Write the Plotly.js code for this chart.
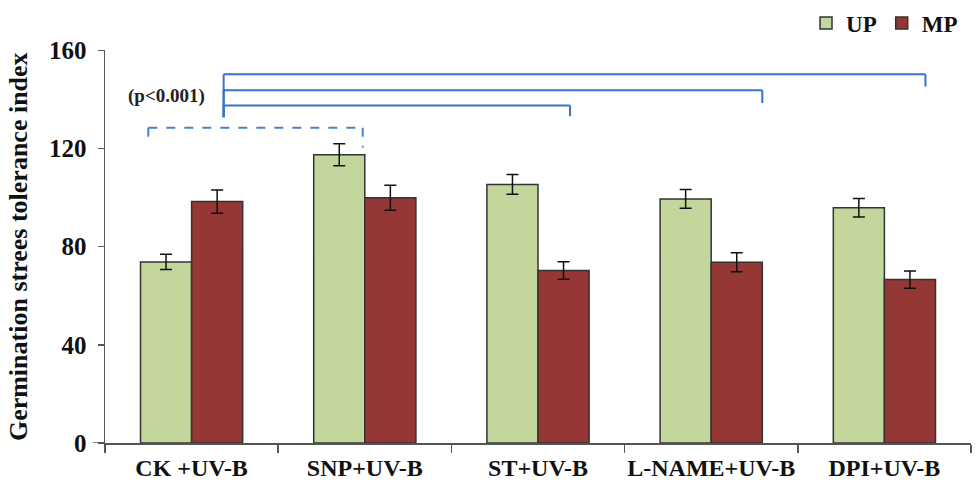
<!DOCTYPE html>
<html>
<head>
<meta charset="utf-8">
<script src="https://cdn.plot.ly/plotly-3.0.1.min.js"></script>
<style>html,body{margin:0;padding:0;background:#fff;}#chart{width:977px;height:485px;}</style>
</head>
<body>
<div id="chart"></div>
<script>
// ---- data ----
var categories = ["CK +UV-B", "SNP+UV-B", "ST+UV-B", "L-NAME+UV-B", "DPI+UV-B"];
var upValues = [73.8, 117.5, 105.4, 99.5, 95.9];
var upErrors = [3.1, 4.5, 4.0, 3.8, 3.8];
var mpValues = [98.4, 100.0, 70.3, 73.7, 66.6];
var mpErrors = [4.7, 5.1, 3.6, 3.9, 3.5];
var yTicks = [0, 40, 80, 120, 160];
var seriesNames = ["UP", "MP"];
var yTitle = "Germination strees tolerance index";
var pLabel = "(p<0.001)";

// brackets: [xLeft, xRight, yTop, yLeftBottom, yRightBottom]
var solidBrackets = [
  [0.185, 4.237, 150.3, 132.8, 145.3],
  [0.185, 3.295, 143.8, 132.8, 138.6],
  [0.185, 2.185, 137.6, 132.8, 133.2]
];
var dashedBrackets = [
  [-0.25, 0.988, 128.5, 121.4, 120.5]
];

var serif = "Liberation Serif, Times New Roman, serif";
var blue = "#3a72c9";

function bracketShapes(list, dash, color) {
  var out = [];
  list.forEach(function (b) {
    var base = {type: "line", xref: "x", yref: "y", line: {color: color, width: 2, dash: dash}};
    out.push(Object.assign({}, base, {x0: b[0], x1: b[1], y0: b[2], y1: b[2]}));
    out.push(Object.assign({}, base, {x0: b[0], x1: b[0], y0: b[2], y1: b[3]}));
    out.push(Object.assign({}, base, {x0: b[1], x1: b[1], y0: b[2], y1: b[4]}));
  });
  return out;
}

var traces = [
  {
    type: "bar", name: seriesNames[0], x: categories, y: upValues,
    marker: {color: "#c3d69b", line: {color: "#333333", width: 1.5}},
    error_y: {type: "data", array: upErrors, visible: true, color: "#111", thickness: 1.5, width: 6}
  },
  {
    type: "bar", name: seriesNames[1], x: categories, y: mpValues,
    marker: {color: "#953735", line: {color: "#333333", width: 1.5}},
    error_y: {type: "data", array: mpErrors, visible: true, color: "#111", thickness: 1.5, width: 6}
  }
];

var shapes = bracketShapes(solidBrackets, "solid", blue).concat(bracketShapes(dashedBrackets, "dash", "#4a7fd0"));
// x-axis line extending slightly left of y-axis
shapes.push({type: "line", xref: "paper", yref: "y", x0: -0.014, x1: 0, y0: 0, y1: 0, line: {color: "#555", width: 1.5}});

var layout = {
  width: 977, height: 485,
  margin: {l: 105, r: 6, t: 49, b: 42},
  paper_bgcolor: "#fff", plot_bgcolor: "#fff",
  barmode: "group", bargap: 0.41, bargroupgap: 0,
  font: {family: serif, color: "#111"},
  xaxis: {
    type: "category", range: [-0.5, 4.5], tickangle: 0, automargin: false,
    showline: true, linecolor: "#555", linewidth: 1.5,
    ticks: "outside", tickson: "boundaries", ticklen: 8, tickcolor: "#555", tickwidth: 1.5,
    ticklabelstandoff: 3,
    tickfont: {family: serif, size: 24, color: "#111", weight: "bold"},
    showgrid: false, zeroline: false
  },
  yaxis: {
    range: [0, 160], tickvals: yTicks, ticktext: yTicks.map(String), automargin: "left",
    showline: true, linecolor: "#555", linewidth: 1.5,
    ticks: "outside", ticklen: 6, tickcolor: "#555", tickwidth: 1.5,
    ticklabelstandoff: 6,
    tickfont: {family: serif, size: 25, color: "#111", weight: "bold"},
    showgrid: false, zeroline: false,
    title: {text: yTitle, font: {family: serif, size: 26, color: "#111", weight: "bold"}, standoff: 14}
  },
  legend: {
    orientation: "h", xref: "container", yref: "container",
    x: 0.825, y: 0.9526, xanchor: "left", yanchor: "middle",
    font: {family: serif, size: 23, color: "#111", weight: "bold"},
    bgcolor: "rgba(0,0,0,0)", itemwidth: 30
  },
  shapes: shapes,
  annotations: [
    {x: -0.145, y: 141.3, xref: "x", yref: "y", text: pLabel, showarrow: false,
     font: {family: serif, size: 19, color: "#222", weight: "bold"}}
  ]
};

Plotly.newPlot("chart", traces, layout, {displayModeBar: false, staticPlot: true});
</script>
</body>
</html>
